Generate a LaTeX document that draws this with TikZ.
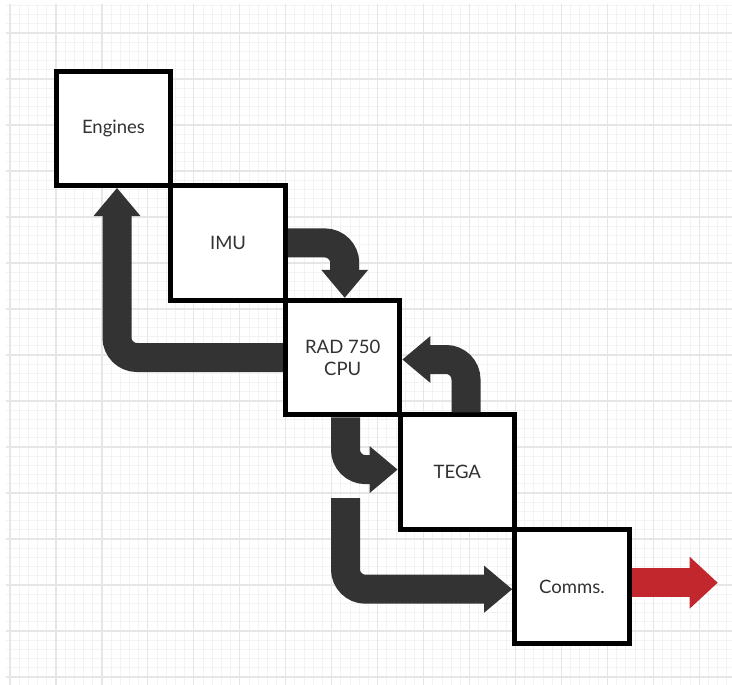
\documentclass[tikz,border=0pt]{standalone}
\usepackage{fontspec}
\setmainfont{Lato}
\usetikzlibrary{calc}
\definecolor{arrowgray}{RGB}{51,51,51}
\definecolor{textgray}{RGB}{50,50,50}
\definecolor{redarrow}{RGB}{193,39,45}
\definecolor{gridminor}{RGB}{243,243,243}
\definecolor{gridmajor}{RGB}{230,230,230}
\begin{document}
\begin{tikzpicture}[x=1pt,y=-1pt,
  box/.style={draw=black,fill=white,line width=5pt,minimum size=114.5pt,inner sep=0pt,
    font=\fontsize{18.5}{22}\selectfont,text=textgray,align=center},
  shaft/.style={draw=arrowgray,line width=29pt,rounded corners=20pt},
  head/.style={fill=arrowgray},
  redshaft/.style={draw=redarrow,line width=29pt},
  redhead/.style={fill=redarrow},
]
\useasboundingbox (0,0) rectangle (732,685);
\fill[white] (0,0) rectangle (732,685);
% grid
\begin{scope}
\clip (6,5) rectangle (732,685);
\foreach \i in {-1,...,80} {
  \draw[gridminor,line width=0.8pt] ({10+9.19*\i},0) -- ({10+9.19*\i},690);
}
\foreach \j in {-4,...,72} {
  \draw[gridminor,line width=0.8pt] (0,{33+9.2*\j}) -- (740,{33+9.2*\j});
}
\foreach \i in {0,...,16} {
  \draw[gridmajor,line width=1.2pt] ({10+45.95*\i},0) -- ({10+45.95*\i},690);
}
\foreach \j in {-1,...,14} {
  \draw[gridmajor,line width=1.2pt] (0,{33+46*\j}) -- (740,{33+46*\j});
}
\end{scope}
% boxes
\node[box] (engines) at (113.5,128.3) {Engines};
\node[box] (imu) at (228.1,242.9) {IMU};
\node[box] (rad) at (342.7,357.5) {RAD 750\\CPU};
\node[box] (tega) at (457.3,472.1) {TEGA};
\node[box] (comms) at (571.9,586.7) {Comms.};
% arrow 1: RAD -> Engines
\coordinate (t1) at ($(engines.south)+(3.5,0)$);
\draw[shaft] (rad.west) -| ($(t1)+(0,27)$);
\fill[head] (t1) -- ($(t1)+(-23.5,28)$) -- ($(t1)+(23.5,28)$) -- cycle;
% arrow 2: IMU -> RAD
\coordinate (t2) at ($(rad.north)+(2,0)$);
\draw[shaft] (imu.east) -| ($(t2)+(0,-27)$);
\fill[head] (t2) -- ($(t2)+(-23.5,-28)$) -- ($(t2)+(23.5,-28)$) -- cycle;
% arrow 3: TEGA -> RAD
\coordinate (s3) at ($(tega.north)+(8.7,0)$);
\coordinate (t3) at ($(rad.east)+(0,2)$);
\draw[shaft] (s3) |- ($(t3)+(27,0)$);
\fill[head] (t3) -- ($(t3)+(28,-23.5)$) -- ($(t3)+(28,23.5)$) -- cycle;
% arrow 4: RAD -> TEGA
\coordinate (s4) at ($(rad.south)+(2.8,0)$);
\coordinate (t4) at ($(tega.west)+(0,-2.5)$);
\draw[shaft] (s4) |- ($(t4)+(-27,0)$);
\fill[head] (t4) -- ($(t4)+(-28,-23.5)$) -- ($(t4)+(-28,23.5)$) -- cycle;
% arrow 5: -> Comms
\coordinate (s5) at (345.5,498);
\coordinate (t5) at ($(comms.west)+(0,2.5)$);
\draw[shaft] (s5) |- ($(t5)+(-27,0)$);
\fill[head] (t5) -- ($(t5)+(-28,-23.5)$) -- ($(t5)+(-28,23.5)$) -- cycle;
% red arrow out of Comms
\coordinate (s6) at ($(comms.east)+(0,-4)$);
\coordinate (t6) at ($(s6)+(86,0)$);
\draw[redshaft] (s6) -- ($(t6)+(-27,0)$);
\fill[redhead] (t6) -- ($(t6)+(-28,-26)$) -- ($(t6)+(-28,26)$) -- cycle;
\end{tikzpicture}
\end{document}
